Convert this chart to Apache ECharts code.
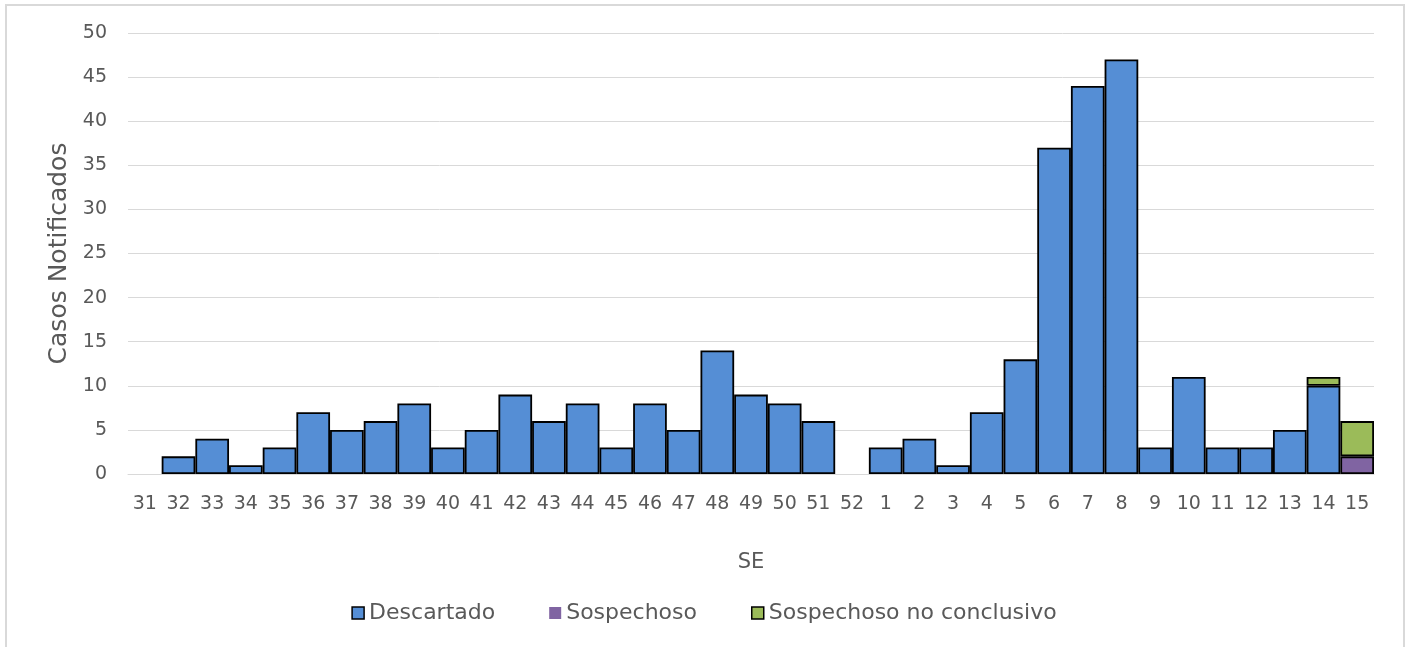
<!DOCTYPE html>
<html>
<head>
<meta charset="utf-8">
<script src="https://cdn.jsdelivr.net/npm/echarts@6/dist/echarts.min.js"></script>
<style>
  html, body { margin: 0; padding: 0; background: #fff; overflow: hidden; }
  #frame { position: absolute; left: 5px; top: 4px; width: 1400px; height: 700px; border: 2px solid #d9d9d9; box-sizing: border-box; }
  #chart { position: absolute; left: 0; top: 0; width: 1408px; height: 647px; }
</style>
</head>
<body>
<div id="frame"></div>
<div id="chart"></div>
<script>
// Epidemiological weeks (SE) across the year boundary
const weeks = ['31','32','33','34','35','36','37','38','39','40','41','42','43','44','45','46','47','48','49','50','51','52',
               '1','2','3','4','5','6','7','8','9','10','11','12','13','14','15'];
const descartado = [0,2,4,1,3,7,5,6,8,3,5,9,6,8,3,8,5,14,9,8,6,0,
                    3,4,1,7,13,37,44,47,3,11,3,3,5,10,0];
const sospechoso = [0,0,0,0,0,0,0,0,0,0,0,0,0,0,0,0,0,0,0,0,0,0,
                    0,0,0,0,0,0,0,0,0,0,0,0,0,0,2];
const noConclusivo = [0,0,0,0,0,0,0,0,0,0,0,0,0,0,0,0,0,0,0,0,0,0,
                      0,0,0,0,0,0,0,0,0,0,0,0,0,1,4];
const yTicks = { min: 0, max: 50, interval: 5 };

const font = '"DejaVu Sans", sans-serif';
const textColor = '#595959';

function hideZeros(arr) { return arr.map(v => v === 0 ? null : v); }

const chart = echarts.init(document.getElementById('chart'), null, { renderer: 'canvas' });
chart.setOption({
  animation: false,
  textStyle: { fontFamily: font, color: textColor },
  grid: { left: 128, right: 34, top: 33, bottom: 173, containLabel: false },
  legend: {
    bottom: 18,
    left: 'center',
    itemWidth: 12,
    itemHeight: 12,
    itemGap: 54,
    icon: 'rect',
    textStyle: { fontFamily: font, fontSize: 22, color: textColor, padding: [0, 0, 0, 0] },
    data: [
      { name: 'Descartado', itemStyle: { borderColor: '#000', borderWidth: 1.5 } },
      { name: 'Sospechoso', itemStyle: { borderWidth: 0 } },
      { name: 'Sospechoso no conclusivo', itemStyle: { borderColor: '#000', borderWidth: 1.5 } }
    ]
  },
  xAxis: {
    type: 'category',
    data: weeks,
    name: 'SE',
    nameLocation: 'middle',
    nameGap: 78,
    nameTextStyle: { fontFamily: font, fontSize: 21, color: textColor },
    axisLine: { lineStyle: { color: '#d9d9d9', width: 1 } },
    axisTick: { show: false },
    axisLabel: { fontFamily: font, fontSize: 19, color: textColor, margin: 21, interval: 0 }
  },
  yAxis: {
    type: 'value',
    min: yTicks.min,
    max: yTicks.max,
    interval: yTicks.interval,
    name: 'Casos Notificados',
    nameLocation: 'middle',
    nameGap: 56,
    nameTextStyle: { fontFamily: font, fontSize: 25, color: textColor },
    axisLine: { show: false },
    axisTick: { show: false },
    splitLine: { lineStyle: { color: '#d9d9d9', width: 1 } },
    axisLabel: { fontFamily: font, fontSize: 19, color: textColor, margin: 21 }
  },
  series: [
    {
      name: 'Descartado', type: 'bar', stack: 'total', data: hideZeros(descartado),
      barCategoryGap: '0%',
      itemStyle: { color: '#558ED5', borderColor: '#000', borderWidth: 1.8 }
    },
    {
      name: 'Sospechoso', type: 'bar', stack: 'total', data: hideZeros(sospechoso),
      itemStyle: { color: '#8064A2', borderColor: '#000', borderWidth: 1.8 }
    },
    {
      name: 'Sospechoso no conclusivo', type: 'bar', stack: 'total', data: hideZeros(noConclusivo),
      itemStyle: { color: '#9BBB59', borderColor: '#000', borderWidth: 1.8 }
    }
  ]
});
</script>
</body>
</html>
